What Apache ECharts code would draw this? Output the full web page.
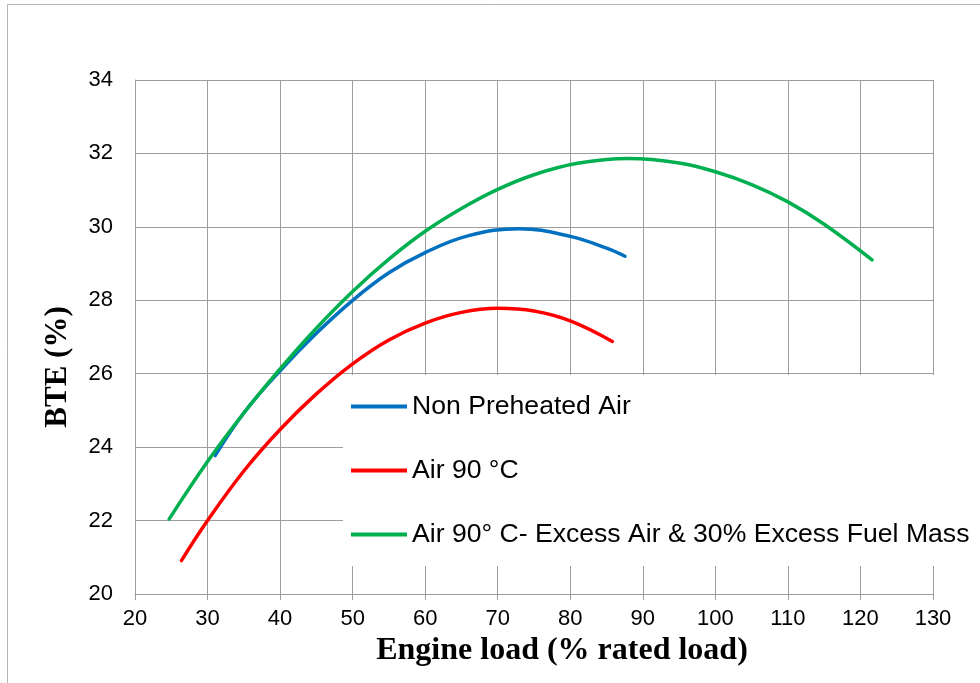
<!DOCTYPE html>
<html>
<head>
<meta charset="utf-8">
<script src="https://cdn.jsdelivr.net/npm/echarts@6/dist/echarts.min.js"></script>
<style>
  html, body { margin: 0; padding: 0; background: #fff; }
  #chart { width: 980px; height: 683px; }
</style>
</head>
<body>
<div id="chart"></div>
<script>
// values: [engine load %, BTE %]
var nonPreheated = [[31.05, 23.77], [35, 24.93], [40, 26.08], [45, 27.1], [50, 28.0], [55, 28.75], [60, 29.3], [66, 29.76], [73, 29.95], [80, 29.74], [85, 29.42], [87.55, 29.2]];
var air90 = [[26.4, 20.91], [30, 22.0], [35, 23.35], [40, 24.48], [45, 25.45], [50, 26.27], [55, 26.92], [60, 27.38], [65, 27.67], [70, 27.78], [75, 27.71], [80, 27.44], [85.8, 26.88]];
var air90Excess = [[24.7, 22.04], [30, 23.61], [35, 24.93], [40, 26.13], [45, 27.24], [50, 28.24], [55, 29.12], [60, 29.88], [65, 30.5], [70, 31.02], [75, 31.42], [81, 31.73], [88, 31.86], [95, 31.74], [100, 31.5], [105, 31.15], [110, 30.68], [115, 30.07], [121.6, 29.1]];

var seriesNames = ['Non Preheated Air', 'Air 90 \u00b0C', 'Air 90\u00b0 C- Excess Air & 30% Excess Fuel Mass'];
var seriesColors = ['#0070C0', '#FF0000', '#00B050'];
var seriesData = [nonPreheated, air90, air90Excess];

var gridColor = '#9d9d9d';

var chart = echarts.init(document.getElementById('chart'));

var option = {
  animation: false,
  backgroundColor: '#fff',
  graphic: [{
    type: 'rect',
    shape: { x: 7.5, y: 4.5, width: 1000, height: 1000 },
    style: { fill: 'none', stroke: '#b5b5b5', lineWidth: 1 },
    silent: true
  }],
  grid: { left: 135, right: 47, top: 80, bottom: 89 },
  legend: {
    orient: 'vertical',
    left: 343,
    top: 375,
    backgroundColor: '#fff',
    padding: [18, 30, 18, 8],
    icon: 'rect',
    itemWidth: 56,
    itemHeight: 4,
    itemGap: 37,
    textStyle: { fontFamily: 'Liberation Sans, Arial', fontSize: 26.6, lineHeight: 26, color: '#000' },
    data: seriesNames
  },
  xAxis: {
    type: 'value',
    min: 20,
    max: 130,
    interval: 10,
    name: 'Engine load (% rated load)',
    nameLocation: 'middle',
    nameGap: 33,
    nameTextStyle: {
      fontFamily: 'Liberation Serif, Times New Roman',
      fontWeight: 'bold',
      fontSize: 32,
      color: '#000',
      padding: [0, 0, 0, 56]
    },
    axisLine: { lineStyle: { color: gridColor, width: 1 } },
    axisTick: { show: true, length: 6, lineStyle: { color: gridColor } },
    axisLabel: { fontFamily: 'Liberation Sans, Arial', fontSize: 22, color: '#000', margin: 14 },
    splitLine: { show: true, lineStyle: { color: gridColor, width: 1 } }
  },
  yAxis: {
    type: 'value',
    min: 20,
    max: 34,
    interval: 2,
    name: 'BTE (%)',
    nameLocation: 'middle',
    nameGap: 62,
    nameRotate: 90,
    nameTextStyle: {
      fontFamily: 'Liberation Serif, Times New Roman',
      fontWeight: 'bold',
      fontSize: 31,
      color: '#000',
      padding: [0, 60, 0, 0]
    },
    axisLine: { show: true, lineStyle: { color: gridColor, width: 1 } },
    axisTick: { show: false },
    axisLabel: { fontFamily: 'Liberation Sans, Arial', fontSize: 22, color: '#000', margin: 22 },
    splitLine: { show: true, lineStyle: { color: gridColor, width: 1 } }
  },
  series: seriesNames.map(function (name, i) {
    return {
      name: name,
      type: 'line',
      smooth: 0.4,
      symbol: 'none',
      color: seriesColors[i],
      lineStyle: { color: seriesColors[i], width: 3.5, cap: 'round' },
      data: seriesData[i]
    };
  })
};

chart.setOption(option);
</script>
</body>
</html>
